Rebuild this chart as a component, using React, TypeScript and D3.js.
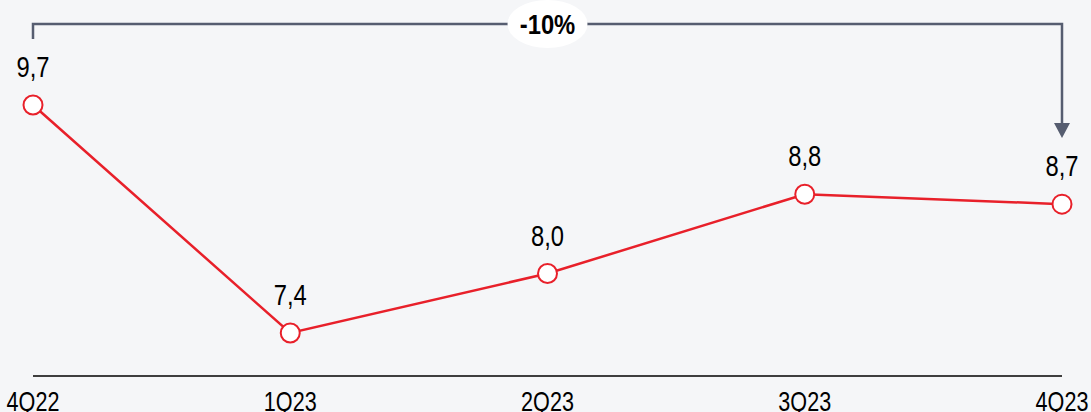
import React from "react";
import * as d3 from "d3";

const categories = ["4Q22", "1Q23", "2Q23", "3Q23", "4Q23"];
const values = [9.7, 7.4, 8.0, 8.8, 8.7];
const changeLabel = "-10%";

const W = 1091;
const H = 412;
const FONT = "'Liberation Sans', Arial, sans-serif";

function NarrowText(props: {
  x: number;
  y: number;
  size: number;
  sx: number;
  bold?: boolean;
  children: React.ReactNode;
}) {
  return (
    <g transform={`translate(${props.x},${props.y}) scale(${props.sx},1)`}>
      <text
        x={0}
        y={0}
        textAnchor="middle"
        fontFamily={FONT}
        fontWeight={props.bold ? "bold" : "normal"}
        fontSize={props.size}
        fill="#000"
      >
        {props.children}
      </text>
    </g>
  );
}

export default function App() {
  const x = d3.scalePoint<string>().domain(categories).range([33, 1062]);
  const y = d3.scaleLinear().domain([7.4, 9.7]).range([333, 105]);
  const line = d3
    .line<number>()
    .x((_, i) => x(categories[i]) as number)
    .y((d) => y(d));
  const fmt = (v: number) => d3.format(".1f")(v).replace(".", ",");

  const x0 = x(categories[0]) as number;
  const x1 = x(categories[categories.length - 1]) as number;
  const bracketY = 24;
  const arrowTip = 138;
  const mid = (x0 + x1) / 2;

  return (
    <div style={{ position: "absolute", left: 0, top: 0, width: W, height: H, background: "#f5f6f8" }}>
      <svg width={W} height={H} style={{ display: "block" }}>
        <rect x={0} y={0} width={W} height={H} fill="#f5f6f8" />
        {/* bracket */}
        <path
          d={`M${x0},39 V${bracketY} H${x1} V${arrowTip - 14}`}
          fill="none"
          stroke="#565d70"
          strokeWidth={2.5}
        />
        <path d={`M${x1 - 8},${arrowTip - 15} L${x1 + 8},${arrowTip - 15} L${x1},${arrowTip} Z`} fill="#565d70" />
        <ellipse cx={mid} cy={bracketY} rx={40} ry={24} fill="#ffffff" />
        <NarrowText x={mid} y={bracketY + 10} size={28} sx={0.85} bold>
          {changeLabel}
        </NarrowText>
        {/* axis */}
        <line x1={x0} x2={x1} y1={376} y2={376} stroke="#000" strokeWidth={1.5} />
        {categories.map((c) => (
          <NarrowText key={c} x={x(c) as number} y={411} size={27} sx={0.8}>
            {c}
          </NarrowText>
        ))}
        <path d={line(values) || ""} fill="none" stroke="#e8202a" strokeWidth={2.5} />
        {values.map((v, i) => (
          <g key={i}>
            <circle cx={x(categories[i])} cy={y(v)} r={9.5} fill="#fff" stroke="#e8202a" strokeWidth={2} />
            <NarrowText x={x(categories[i]) as number} y={y(v) - 28} size={29} sx={0.82}>
              {fmt(v)}
            </NarrowText>
          </g>
        ))}
      </svg>
    </div>
  );
}
